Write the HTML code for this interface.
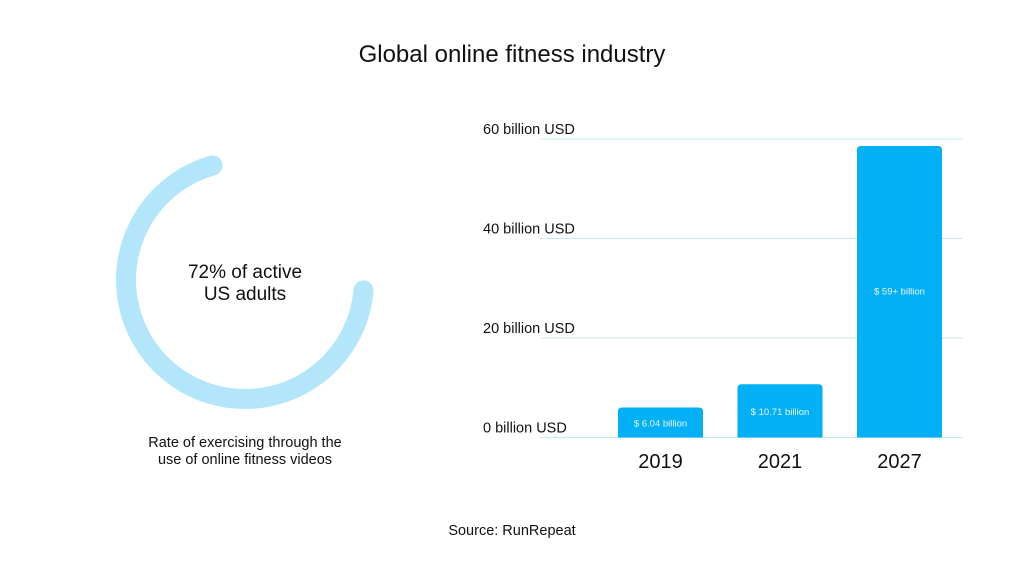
<!DOCTYPE html>
<html><head><meta charset="utf-8"><style>
body{margin:0;background:#fff;font-family:"Liberation Sans",sans-serif}
svg{display:block}
</style></head><body>
<svg width="1024" height="579" viewBox="0 0 1024 579">
<text x="512" y="62" text-anchor="middle" font-size="24" fill="#111">Global online fitness industry</text>
<g>
<path id="arc" fill="none" stroke="#b3e5fb" stroke-width="20" stroke-linecap="round"/>
<text x="245" y="278" text-anchor="middle" font-size="19" fill="#111"><tspan x="245">72% of active</tspan><tspan x="245" dy="22">US adults</tspan></text>
</g>
<text x="245" y="447" text-anchor="middle" font-size="14.5" fill="#111"><tspan x="245">Rate of exercising through the</tspan><tspan x="245" dy="17">use of online fitness videos</tspan></text>
<g id="grid"></g>
<g id="bars"></g>
<text x="512" y="535" text-anchor="middle" font-size="14.5" fill="#111">Source: RunRepeat</text>
</svg>
<script>
const categories=["2019","2021","2027"];
const values=[6.04,10.71,58.6];
const valueLabels=["$ 6.04 billion","$ 10.71 billion","$ 59+ billion"];
const ticks=[0,20,40,60];
const tickLabels=["0 billion USD","20 billion USD","40 billion USD","60 billion USD"];
const donutPct=[72];
const NS="http://www.w3.org/2000/svg";
const y=v=>437.5-v*(437.5-139)/60;
const bx=i=>618+i*119.5;
const bw=85;
const grid=document.getElementById('grid');
ticks.forEach((t,i)=>{
 const l=document.createElementNS(NS,'line');
 l.setAttribute('x1',540);l.setAttribute('x2',963);l.setAttribute('y1',y(t));l.setAttribute('y2',y(t));
 l.setAttribute('stroke','#c3e8f7');l.setAttribute('stroke-width','1');
 
 
 grid.appendChild(l);
 const tx=document.createElementNS(NS,'text');
 tx.setAttribute('x',483);tx.setAttribute('y',y(t)-5);tx.setAttribute('font-size','14.5');tx.setAttribute('fill','#111');
 tx.textContent=tickLabels[i];
 
 
 grid.appendChild(tx);
});
const bars=document.getElementById('bars');
values.forEach((v,i)=>{
 const r=document.createElementNS(NS,'path');
 const x=bx(i),top=y(v),b=y(0),rr=4;
 r.setAttribute('d',`M${x},${b}V${top+rr}Q${x},${top} ${x+rr},${top}H${x+bw-rr}Q${x+bw},${top} ${x+bw},${top+rr}V${b}Z`);
 r.setAttribute('fill','#03b0f5');
 
 
 bars.appendChild(r);
 const lb=document.createElementNS(NS,'text');
 const ly=i==2?y(v*0.5)+3:(top+b)/2+4;
 lb.setAttribute('x',x+bw/2);lb.setAttribute('y',ly);lb.setAttribute('text-anchor','middle');
 lb.setAttribute('font-size','9.5');lb.setAttribute('fill','#e8f7ff');
 lb.textContent=valueLabels[i];
 
 
 bars.appendChild(lb);
 const c=document.createElementNS(NS,'text');
 c.setAttribute('x',x+bw/2);c.setAttribute('y',468);c.setAttribute('text-anchor','middle');
 c.setAttribute('font-size','20');c.setAttribute('fill','#111');
 c.textContent=categories[i];
 
 
 bars.appendChild(c);
});
// donut: arc ends at ~95deg (clockwise from top), drawn counter-clockwise for the percentage (minus caps)
const cx=245,cy=280,R=119;
const endA=95, span=donutPct[0]/100*360-10;
const startA=endA+span;
const pt=a=>[cx+R*Math.sin(a*Math.PI/180),cy-R*Math.cos(a*Math.PI/180)];
const [x1,y1]=pt(endA),[x2,y2]=pt(startA);
document.getElementById('arc').setAttribute('d',`M${x1},${y1}A${R},${R} 0 ${span>180?1:0} 1 ${x2},${y2}`);
</script>
</body></html>
